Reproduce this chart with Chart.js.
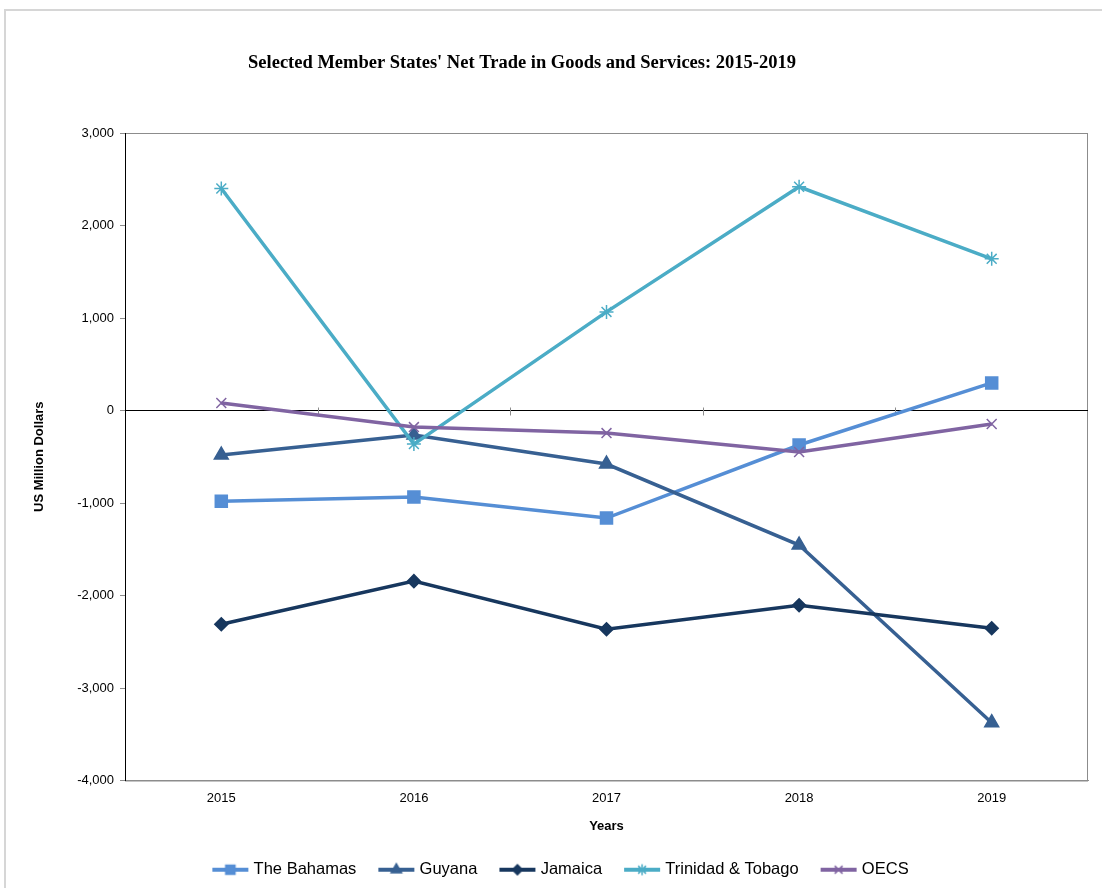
<!DOCTYPE html>
<html>
<head>
<meta charset="utf-8">
<script src="https://cdn.jsdelivr.net/npm/chart.js@4/dist/chart.umd.min.js"></script>
<style>
  body { margin: 0; background: #fff; overflow: hidden; }
  #wrap { position: relative; width: 1102px; height: 888px; overflow: hidden; }
  #chart { position: absolute; left: 0; top: 0; }
  #frame { position: absolute; left: 4px; top: 9px; width: 1200px; height: 1000px;
           border-left: 2px solid #d6d6d6; border-top: 2px solid #d6d6d6; pointer-events: none; }
</style>
</head>
<body>
<div id="wrap">
  <canvas id="chart" width="1102" height="888"></canvas>
  <div id="frame"></div>
</div>
<script>
const years = ['2015', '2016', '2017', '2018', '2019'];
const bahamas = [-980, -936, -1163, -373, 298];
const guyana = [-482, -265, -579, -1455, -3375];
const jamaica = [-2311, -1845, -2365, -2105, -2354];
const trinidad = [2400, -363, 1066, 2419, 1640];
const oecs = [81, -179, -244, -449, -146];
const yMin = -4000, yMax = 3000, yStep = 1000;

const sans = "'Liberation Sans', Arial, sans-serif";
const serif = "'Liberation Serif', 'Times New Roman', serif";

// legend icon: short line with the marker on it
function legendIcon(color, style, r) {
    const c = document.createElement('canvas');
    c.width = 38; c.height = 16;
    const x = c.getContext('2d');
    x.strokeStyle = color; x.fillStyle = color; x.lineWidth = 4;
    x.beginPath(); x.moveTo(1, 8); x.lineTo(37, 8); x.stroke();
    x.lineWidth = 1.5;
    Chart.helpers.drawPoint(x, {pointStyle: style, radius: r, rotation: 0, borderWidth: 1.5}, 19, 8);
    return c;
}

function series(label, data, color, style, r, order) {
    return {
        label, data, order,
        borderColor: color, backgroundColor: color,
        borderWidth: 3.5,
        pointStyle: style, pointRadius: r, pointHoverRadius: r,
        pointBorderWidth: 1.5,
        pointBackgroundColor: color, pointBorderColor: color,
        tension: 0
    };
}

const datasets = [
    series('The Bahamas', bahamas, '#558ED5', 'rect', 8.5, 5),
    series('Guyana', guyana, '#376092', 'triangle', 8, 4),
    series('Jamaica', jamaica, '#17375E', 'rectRot', 6.5, 3),
    series('Trinidad & Tobago', trinidad, '#4BACC6', 'star', 7, 2),
    series('OECS', oecs, '#8064A2', 'crossRot', 7, 1)
];
const icons = [
    legendIcon('#558ED5', 'rect', 6.5),
    legendIcon('#376092', 'triangle', 6),
    legendIcon('#17375E', 'rectRot', 5),
    legendIcon('#4BACC6', 'star', 5.5),
    legendIcon('#8064A2', 'crossRot', 5.5)
];

// frame of plot area, zero-line ticks, title
const extras = {
    id: 'extras',
    beforeDraw(chart) {
        const {ctx, chartArea: a} = chart;
        ctx.save();
        ctx.strokeStyle = '#8c8c8c';
        ctx.lineWidth = 1;
        ctx.strokeRect(a.left + 0.5, a.top + 0.5, a.right - a.left - 1, a.bottom - a.top);
        ctx.restore();
    },
    beforeDatasetsDraw(chart) {
        const {ctx, scales: {x, y}} = chart;
        const y0 = Math.round(y.getPixelForValue(0)) + 0.5;
        ctx.save();
        ctx.strokeStyle = '#8c8c8c';
        ctx.lineWidth = 1;
        for (let i = 1; i < years.length; i++) {
            const px = Math.round((x.getPixelForValue(i - 1) + x.getPixelForValue(i)) / 2) + 0.5;
            ctx.beginPath(); ctx.moveTo(px, y0 - 4); ctx.lineTo(px, y0 + 4); ctx.stroke();
        }
        ctx.restore();
    },
    afterDraw(chart) {
        const ctx = chart.ctx;
        ctx.save();
        ctx.font = "bold 18.5px " + serif;
        ctx.fillStyle = '#000';
        ctx.textAlign = 'center';
        ctx.textBaseline = 'middle';
        ctx.fillText("Selected Member States' Net Trade in Goods and Services: 2015-2019", 522, 63);
        ctx.restore();
    }
};

new Chart(document.getElementById('chart').getContext('2d'), {
    type: 'line',
    data: { labels: years, datasets },
    plugins: [extras],
    options: {
        responsive: false,
        animation: false,
        layout: { padding: { top: 133, right: 14, bottom: 0, left: 36 } },
        plugins: {
            tooltip: { enabled: false },
            legend: {
                position: 'bottom',
                labels: {
                    usePointStyle: true,
                    pointStyleWidth: 30,
                    boxHeight: 16,
                    padding: 25,
                    color: '#000',
                    font: { size: 16.5, family: sans },
                    generateLabels: (chart) => chart.data.datasets.map((ds, i) => ({
                        text: ds.label,
                        pointStyle: icons[i],
                        fillStyle: ds.borderColor,
                        strokeStyle: ds.borderColor,
                        lineWidth: 0,
                        hidden: false,
                        datasetIndex: i,
                        fontColor: '#000'
                    }))
                }
            }
        },
        scales: {
            x: {
                offset: true,
                grid: { display: false, drawTicks: false },
                border: { color: '#8c8c8c' },
                ticks: { color: '#000', padding: 10, font: { size: 13, family: sans } },
                title: { display: true, text: 'Years', color: '#000', padding: { top: 0, bottom: 2 },
                         font: { size: 13, weight: 'bold', family: sans } },
                afterFit: (s) => { s.height = 56; }
            },
            y: {
                min: yMin, max: yMax,
                ticks: {
                    stepSize: yStep, color: '#000', padding: 6,
                    font: { size: 13, family: sans },
                    callback: (v) => v.toLocaleString('en-US')
                },
                grid: {
                    color: (c) => c.tick && c.tick.value === 0 ? '#000' : 'rgba(0,0,0,0)',
                    tickColor: '#8c8c8c',
                    tickLength: 5,
                    lineWidth: 1
                },
                border: { color: '#000', width: 1 },
                title: { display: true, text: 'US Million Dollars', color: '#000', padding: { top: -4, bottom: 0 },
                         font: { size: 13, weight: 'bold', family: sans } },
                afterFit: (s) => { s.width = 89; }
            }
        }
    }
});
</script>
</body>
</html>
